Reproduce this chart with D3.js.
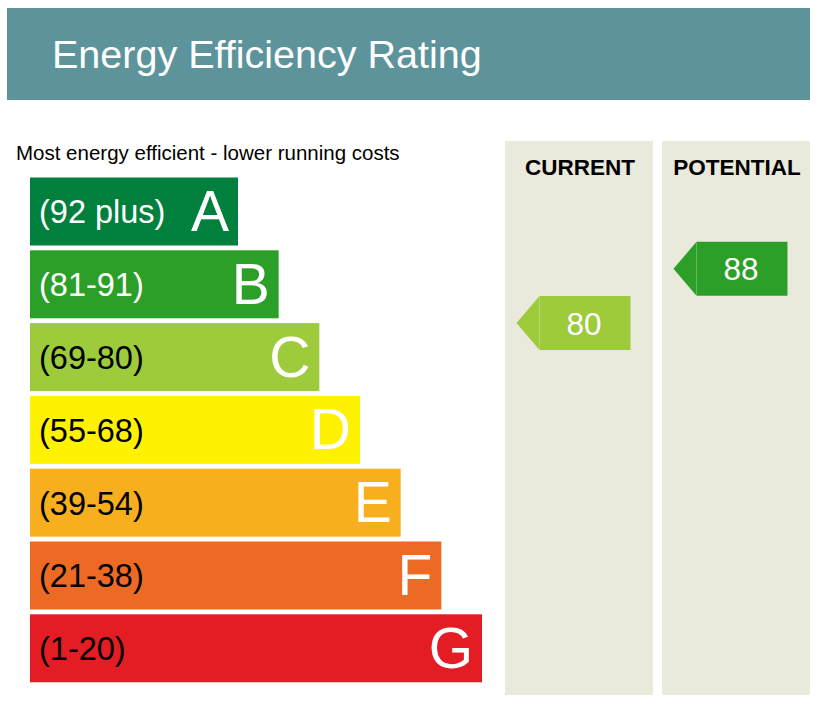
<!DOCTYPE html>
<html>
<head>
<meta charset="utf-8">
<script src="https://cdn.jsdelivr.net/npm/d3@7"></script>
<style>
  body { margin: 0; background: #fff; }
  svg { display: block; font-family: "Liberation Sans", Arial, Helvetica, sans-serif; }
</style>
</head>
<body>
<main></main>
<script>
// データ
const bands = ["A", "B", "C", "D", "E", "F", "G"];
const bandLabels = ["(92 plus)", "(81-91)", "(69-80)", "(55-68)", "(39-54)", "(21-38)", "(1-20)"];
const bandMin = [92, 81, 69, 55, 39, 21, 1];
const bandMax = [100, 91, 80, 68, 54, 38, 20];
const bandColors = ["#007f3d", "#2c9f29", "#9dcb3c", "#fff200", "#f7af1d", "#ed6a24", "#e31d23"];
const labelColors = ["#fff", "#fff", "#000", "#000", "#000", "#000", "#000"];
const columns = ["CURRENT", "POTENTIAL"];
const ratings = [80, 88];

const width = 824, height = 706;
const svg = d3.select("main").append("svg")
    .attr("width", width)
    .attr("height", height);

// タイトル
svg.append("rect")
    .attr("x", 7).attr("y", 8)
    .attr("width", 803).attr("height", 92)
    .attr("fill", "#5d949b");
svg.append("text")
    .attr("x", 52).attr("y", 67.5)
    .attr("fill", "#fff")
    .attr("font-size", 39.5)
    .text("Energy Efficiency Rating");

svg.append("text")
    .attr("x", 16).attr("y", 159.5)
    .attr("font-size", 20.5)
    .attr("fill", "#000")
    .text("Most energy efficient - lower running costs");

// スケール
const y = d3.scaleBand()
    .domain(bands)
    .range([177.5, 682.3])
    .paddingInner(0.066);
const barEnd = d3.scaleLinear()
    .domain([0, bands.length - 1])
    .range([238, 482]);
const colX = d3.scaleBand()
    .domain(columns)
    .range([505, 810])
    .paddingInner(0.057);

// 列の背景
svg.append("g").selectAll("rect")
    .data(columns)
    .enter().append("rect")
    .attr("x", d => colX(d))
    .attr("y", 141)
    .attr("width", colX.bandwidth())
    .attr("height", 554)
    .attr("fill", "#e9e9dc");
svg.append("g").selectAll("text")
    .data(columns)
    .enter().append("text")
    .attr("x", d => colX(d) + colX.bandwidth() / 2 + 1)
    .attr("y", 174.5)
    .attr("text-anchor", "middle")
    .attr("font-size", 22.5)
    .attr("font-weight", "bold")
    .attr("fill", "#000")
    .text(d => d);

// バー
const bar = svg.append("g").selectAll("g")
    .data(bands)
    .enter().append("g")
    .attr("transform", d => `translate(0,${y(d)})`);
bar.append("rect")
    .attr("x", 30)
    .attr("width", (d, i) => barEnd(i) - 30)
    .attr("height", y.bandwidth())
    .attr("fill", (d, i) => bandColors[i]);
bar.append("text")
    .attr("x", 39)
    .attr("y", y.bandwidth() / 2 + 12)
    .attr("font-size", 32.5)
    .attr("fill", (d, i) => labelColors[i])
    .text((d, i) => bandLabels[i]);
bar.append("text")
    .attr("x", (d, i) => barEnd(i) - 9)
    .attr("y", y.bandwidth() / 2 + 19.5)
    .attr("text-anchor", "end")
    .attr("font-size", 57)
    .attr("fill", "#fff")
    .text(d => d);

// 評価の矢印
function ratingY(v) {
    const i = bandMin.findIndex((m, k) => v >= m && v <= bandMax[k]);
    const s = d3.scaleLinear()
        .domain([bandMax[i], bandMin[i] - 1])
        .range([y(bands[i]), y(bands[i]) + y.bandwidth()]);
    return { cy: s(v), color: bandColors[i] };
}

const arrowH = 54, tipW = 23, boxW = 91;
const arrow = svg.append("g").selectAll("g")
    .data(ratings)
    .enter().append("g")
    .attr("transform", (d, i) => `translate(${colX(columns[i]) + 11.5},${ratingY(d).cy})`);
arrow.append("path")
    .attr("d", `M0,0 L${tipW},${-arrowH / 2} L${tipW + boxW},${-arrowH / 2} L${tipW + boxW},${arrowH / 2} L${tipW},${arrowH / 2} Z`)
    .attr("fill", d => ratingY(d).color);
arrow.append("line")
    .attr("x1", tipW).attr("x2", tipW)
    .attr("y1", -arrowH / 2).attr("y2", arrowH / 2)
    .attr("stroke", "#fff")
    .attr("stroke-opacity", 0.25);
arrow.append("text")
    .attr("x", tipW + boxW / 2 - 1)
    .attr("y", 11.5)
    .attr("text-anchor", "middle")
    .attr("font-size", 31.5)
    .attr("fill", "#fff")
    .text(d => d);
</script>
</body>
</html>
